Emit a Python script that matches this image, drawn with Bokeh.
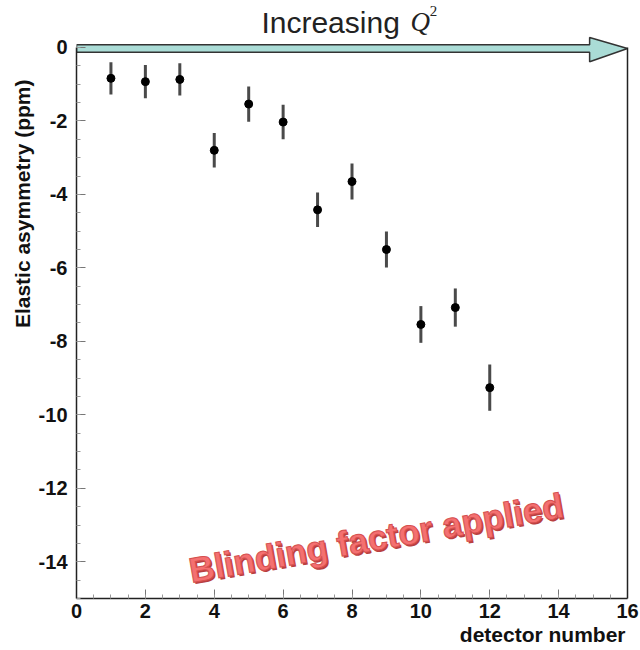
import math
from bokeh.plotting import figure
from bokeh.models import (Range1d, SingleIntervalTicker, FixedTicker, LinearAxis,
                          ColumnDataSource, Title)
from bokeh.core.properties import value
from bokeh.embed import file_html
from bokeh.resources import INLINE

# ---- data ----
detector = [1, 2, 3, 4, 5, 6, 7, 8, 9, 10, 11, 12]
asymmetry = [-0.84, -0.93, -0.87, -2.80, -1.54, -2.03, -4.42, -3.65, -5.50, -7.54, -7.08, -9.26]
asym_err = [0.44, 0.45, 0.44, 0.47, 0.48, 0.47, 0.47, 0.49, 0.49, 0.50, 0.52, 0.63]

x_tick_values = [0, 2, 4, 6, 8, 10, 12, 14, 16]
y_tick_values = [0, -2, -4, -6, -8, -10, -12, -14]
x_label = "detector number"
y_label = "Elastic asymmetry (ppm)"
arrow_word = "Increasing"
arrow_var = "Q"
arrow_pow = "2"
blind_text = "Blinding factor applied"

# plot limits (the top is extended so the Q^2 arrow and its caption sit in the frame)
X_MIN, X_MAX = 0, 16
Y_MIN, Y_MAX = -15, 0
Y_TOP = 1.17

src = ColumnDataSource(dict(
    x=detector,
    y=asymmetry,
    lo=[a - e for a, e in zip(asymmetry, asym_err)],
    hi=[a + e for a, e in zip(asymmetry, asym_err)],
))

p = figure(width=640, height=650, output_backend="svg", toolbar_location=None,
           x_range=Range1d(X_MIN, X_MAX), y_range=Range1d(Y_MIN, Y_TOP),
           min_border_left=76, min_border_right=13, min_border_top=4, min_border_bottom=52)
p.grid.visible = False
p.background_fill_color = "white"
p.border_fill_color = "white"
p.outline_line_color = None

xax = p.xaxis[0]
yax = p.yaxis[0]
xax.ticker = SingleIntervalTicker(interval=2, num_minor_ticks=4)
xax.major_label_overrides = {v: str(v) for v in x_tick_values}
yax.ticker = FixedTicker(ticks=y_tick_values,
                         minor_ticks=[Y_MIN + 0.5 * i for i in range(int((Y_MAX - Y_MIN) * 2) + 1)])
yax.major_label_overrides = {v: str(v) for v in y_tick_values}
yax.bounds = (Y_MIN, Y_MAX)
for ax in (xax, yax):
    ax.major_tick_in = 9
    ax.major_tick_out = 0
    ax.minor_tick_in = 4
    ax.minor_tick_out = 0
    ax.major_tick_line_color = "#777777"
    ax.minor_tick_line_color = "#999999"
    ax.axis_line_color = "#222222"
    ax.axis_line_width = 1.5
    ax.major_label_text_font = "Liberation Sans"
    ax.major_label_text_font_style = "bold"
    ax.major_label_text_font_size = "20px"
    ax.major_label_text_color = "#111111"
xax.major_label_standoff = 5
yax.major_label_standoff = 9

# right edge of the frame
rax = LinearAxis(bounds=(Y_MIN, Y_MAX), ticker=FixedTicker(ticks=[]),
                 axis_line_color="#222222", axis_line_width=1.5,
                 major_tick_in=0, major_tick_out=0, minor_tick_in=0, minor_tick_out=0)
p.add_layout(rax, "right")

# axis titles
p.add_layout(Title(text=x_label, align="right", offset=2, standoff=0,
                   text_font="Liberation Sans", text_font_style="bold",
                   text_font_size="21px", text_color="#111111"), "below")
p.add_layout(Title(text=y_label, align="right", offset=75, standoff=4,
                   text_font="Liberation Sans", text_font_style="bold",
                   text_font_size="21px", text_color="#111111"), "left")

# error bars and points
p.segment(x0="x", y0="lo", x1="x", y1="hi", source=src, line_color="#4a4a4a", line_width=3)
p.scatter("x", "y", source=src, size=8, color="black")

# increasing-Q^2 arrow along the top
p.patch(x=[0, 14.9, 14.9, 16.0, 14.9, 14.9, 0],
        y=[0.075, 0.075, 0.27, -0.027, -0.39, -0.13, -0.13],
        fill_color="#aadcd6", line_color="#333333", line_width=1.5)

p.text(x=[5.37], y=[0.69], text=[arrow_word], text_font=value("Liberation Sans"),
       text_font_size="30px", text_color="#222222", text_align="left", text_baseline="alphabetic")
p.text(x=[9.70], y=[0.69], text=[arrow_var], text_font=value("Liberation Serif"),
       text_font_style="italic", text_font_size="27px", text_color="#222222",
       text_align="left", text_baseline="alphabetic")
p.text(x=[10.26], y=[0.99], text=[arrow_pow], text_font=value("Liberation Serif"),
       text_font_size="15px", text_color="#222222", text_align="left", text_baseline="alphabetic")

# blinding watermark (shadow + face)
ang = math.radians(10)
p.text(x=[8.75], y=[-13.39], text=[blind_text], angle=ang,
       text_font=value("Liberation Sans"), text_font_style="bold", text_font_size="35px",
       text_color="#b84040", text_align="center", text_baseline="alphabetic")
p.text(x=[8.70], y=[-13.34], text=[blind_text], angle=ang,
       text_font=value("Liberation Sans"), text_font_style="bold", text_font_size="35px",
       text_color="#f47070", text_outline_color="#d65050",
       text_align="center", text_baseline="alphabetic")

open("out.html", "w").write(file_html(p, INLINE))
